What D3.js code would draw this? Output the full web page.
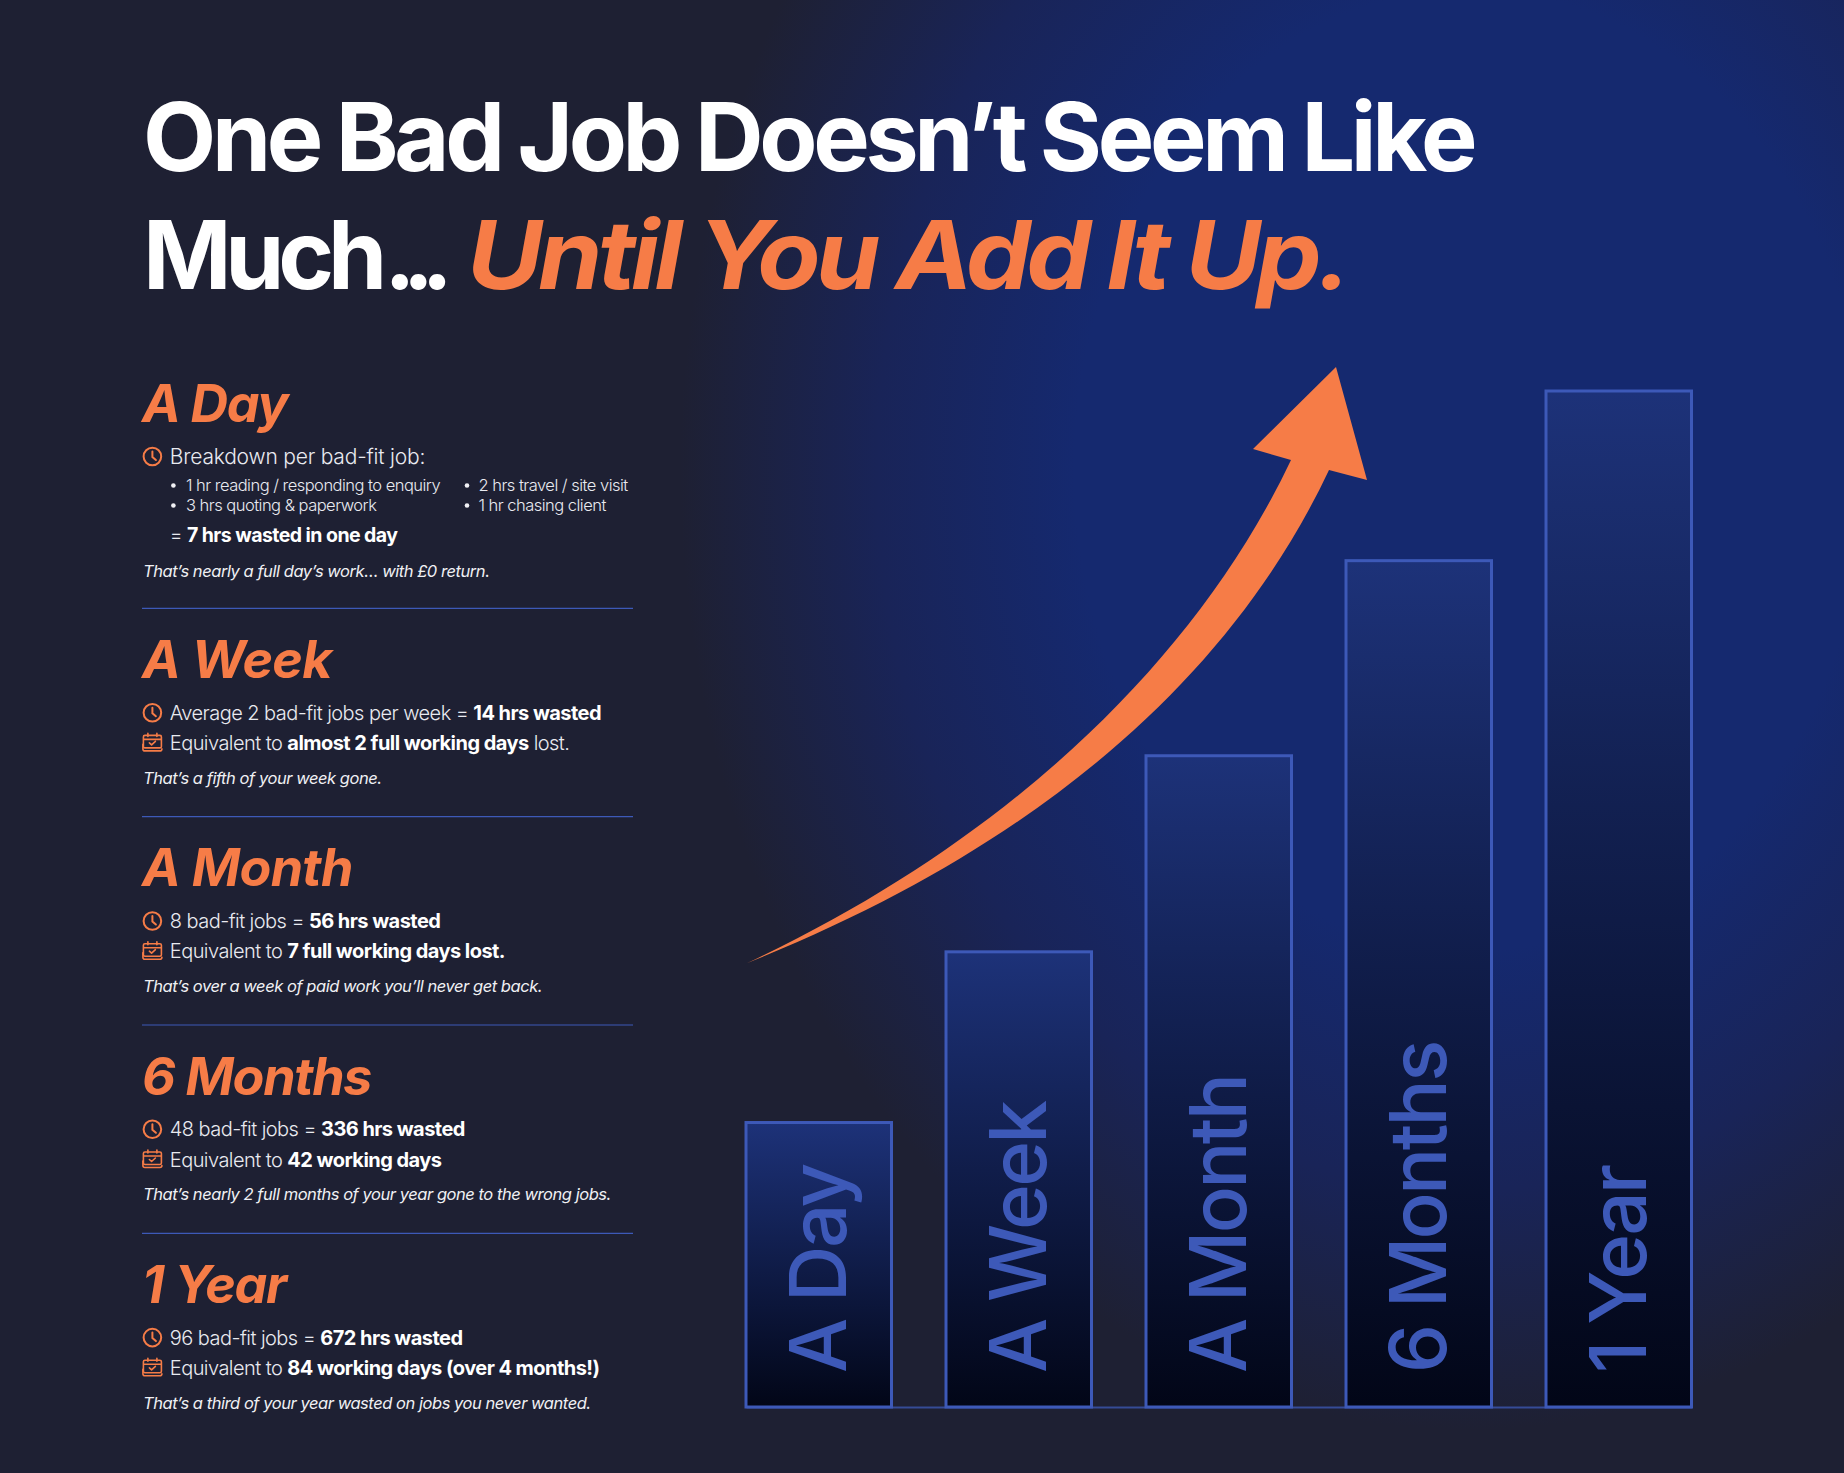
<!DOCTYPE html>
<html><head><meta charset="utf-8"><title>One Bad Job</title>
<script src="https://cdn.jsdelivr.net/npm/d3@7"></script>
<style>
html,body{margin:0;padding:0;background:#1e2032;}
svg{display:block;}
text{font-family:Inter,"Noto Sans",sans-serif;}
</style></head><body>
<div id="chart"></div>
<script>
const periods = ["A Day","A Week","A Month","6 Months","1 Year"];
const barHeights = [28.0,44.8,64.1,83.3,100];
const titleLine1 = "One Bad Job Doesn’t Seem Like";
const titleLine2a = "Much";
const titleLine2dots = "...";
const titleLine2b = "Until You Add It Up.";
const breakdownHead = "Breakdown per bad-fit job:";
const breakdownCol1 = ["1 hr reading / responding to enquiry","3 hrs quoting & paperwork"];
const breakdownCol2 = ["2 hrs travel / site visit","1 hr chasing client"];
const dayTotal = ["= ","7 hrs wasted in one day"];
const hourLines = [null,
  ["Average 2 bad-fit jobs per week = ","14 hrs wasted"],
  ["8 bad-fit jobs = ","56 hrs wasted"],
  ["48 bad-fit jobs = ","336 hrs wasted"],
  ["96 bad-fit jobs = ","672 hrs wasted"]];
const equivLines = [null,
  ["Equivalent to ","almost 2 full working days"," lost."],
  ["Equivalent to ","7 full working days lost."],
  ["Equivalent to ","42 working days"],
  ["Equivalent to ","84 working days (over 4 months!)"]];
const closers = ["That’s nearly a full day’s work… with £0 return.",
  "That’s a fifth of your week gone.",
  "That’s over a week of paid work you’ll never get back.",
  "That’s nearly 2 full months of your year gone to the wrong jobs.",
  "That’s a third of your year wasted on jobs you never wanted."];

const W=1844,H=1473, ORANGE="#f67c47", BLUE="#3d59b8";
const svg=d3.select("#chart").append("svg").attr("width",W).attr("height",H).attr("viewBox",`0 0 ${W} ${H}`);
const defs=svg.append("defs");
const bg=defs.append("radialGradient").attr("id","bg").attr("gradientUnits","userSpaceOnUse")
  .attr("cx",0).attr("cy",0).attr("r",1).attr("gradientTransform","translate(1470,470) scale(790,960)");
[[0,"#15296f"],[0.5,"#15296f"],[0.75,"#192458"],[1,"#1e2033"]].forEach(s=>bg.append("stop").attr("offset",s[0]).attr("stop-color",s[1]));
const bf=defs.append("linearGradient").attr("id","barFill").attr("x1",0).attr("y1",0).attr("x2",0).attr("y2",1);
[[0,"#1d3279"],[1,"#020617"]].forEach(s=>bf.append("stop").attr("offset",s[0]).attr("stop-color",s[1]));
svg.append("rect").attr("width",W).attr("height",H).attr("fill","#1e2033");
svg.append("rect").attr("width",W).attr("height",H).attr("fill","url(#bg)");

// chart
const x=d3.scaleBand().domain(periods).range([746,1691.5]).paddingInner(0.2725);
const y=d3.scaleLinear().domain([0,100]).range([1407,391]);
const axis=svg.append("g").attr("transform",`translate(0,${y(0)})`).call(d3.axisBottom(x).tickSize(0).tickFormat(""));
axis.select(".domain").attr("stroke",BLUE).attr("stroke-width",2).attr("opacity",.75);
svg.append("g").selectAll("rect").data(periods).join("rect")
  .attr("x",d=>x(d)).attr("width",x.bandwidth())
  .attr("y",(d,i)=>y(barHeights[i])).attr("height",(d,i)=>y(0)-y(barHeights[i]))
  .attr("fill","url(#barFill)").attr("stroke",BLUE).attr("stroke-width",3);
svg.append("g").selectAll("text").data(periods).join("text")
  .attr("transform",d=>`translate(${x(d)+x.bandwidth()/2+27},1373) rotate(-90)`)
  .attr("fill",BLUE).attr("font-size",78).attr("font-weight",500).attr("letter-spacing",-2.5).text(d=>d);

// arrow
const ap=d3.path();
ap.moveTo(746.7,963.3);
ap.bezierCurveTo(1010,840,1197,658,1291,460);
ap.lineTo(1253,449);ap.lineTo(1336,367);ap.lineTo(1367,480);ap.lineTo(1329,470);
ap.bezierCurveTo(1230,680,1035,848,746.7,963.3);
ap.closePath();
svg.append("path").attr("fill",ORANGE).attr("d",ap.toString());

// title
const tg=svg.append("g").attr("font-size",95).attr("font-weight",700).attr("fill","#fff");
tg.append("text").attr("x",143).attr("y",171).attr("letter-spacing",-4.3).attr("word-spacing",-1.5).text(titleLine1);
const t2=tg.append("text").attr("x",143).attr("y",289).attr("letter-spacing",-6.2);
t2.append("tspan").text(titleLine2a);
t2.append("tspan").attr("letter-spacing",-13).attr("dx",3).text(titleLine2dots);
tg.append("text").attr("x",467).attr("y",289).attr("letter-spacing",-4.3).attr("fill",ORANGE).attr("font-style","italic")
  .attr("textLength",880).attr("lengthAdjust","spacingAndGlyphs").text(titleLine2b);

// left column
function clock(g,cy){
  const c=g.append("g").attr("transform",`translate(152.4,${cy})`).attr("fill","none").attr("stroke",ORANGE).attr("stroke-width",2).attr("stroke-linecap","round");
  c.append("circle").attr("r",8.8);
  c.append("path").attr("d","M0,-5V0.5L3.5,3.5");
}
function calendar(g,cy){
  const c=g.append("g").attr("transform",`translate(152.4,${cy})`).attr("fill","none").attr("stroke",ORANGE).attr("stroke-width",1.6).attr("stroke-linecap","round").attr("stroke-linejoin","round");
  c.append("path").attr("d","M-7.5,-7H7.5Q9,-7 9,-5.5V4Q9,5.5 7.5,5.5H-7.5Q-9,5.5 -9,4V-5.5Q-9,-7 -7.5,-7Z");
  c.append("path").attr("d","M-8.5,-3H8.5M-4.5,-9V-6M4.5,-9V-6M-3,0.5L-0.8,2.5L3,-1");
  c.append("path").attr("d","M-9.5,2V6.5Q-9.5,8.5 -7.5,8.5H7.5Q9.5,8.5 9.5,6.5");
}
function rich(g,xx,yy,parts,size,ls){
  const t=g.append("text").attr("x",xx).attr("y",yy).attr("font-size",size).attr("fill","#e9eaf0").attr("font-weight",300).attr("letter-spacing",ls);
  parts.forEach((p,i)=>t.append("tspan").attr("font-weight",i%2?700:300).attr("fill",i%2?"#fff":"#e9eaf0").attr("xml:space","preserve").text(p));
  return t;
}
const left=svg.append("g");
const base=d3.scaleLinear().domain([0,1]).range([469.7,678]);
periods.forEach((p,i)=>{
  const by=i===0?422:base(i);
  left.append("text").attr("x",142).attr("y",by).attr("font-size",52).attr("font-weight",700).attr("font-style","italic").attr("letter-spacing",i===1||i===2?-0.7:-1.3).attr("fill",ORANGE).text(p);
  if(i<4) left.append("line").attr("x1",142).attr("x2",633).attr("y1",base(i)+138.7).attr("y2",base(i)+138.7).attr("stroke",BLUE).attr("stroke-width",1.2);
  if(i>0){
    clock(left,by+34.7);
    rich(left,169.8,by+41.7,hourLines[i],20,-.55);
    calendar(left,by+64.4);
    rich(left,169.8,by+72,equivLines[i],20,-.55);
    left.append("text").attr("x",143).attr("y",by+105.7).attr("font-size",16.5).attr("font-style","italic").attr("font-weight",400).attr("fill","#f0f0f4").attr("letter-spacing",-.45).text(closers[i]);
  }
});
clock(left,456.5);
rich(left,169.8,464,[breakdownHead],21,-.2);
[[breakdownCol1,173.4,186],[breakdownCol2,467,478.5]].forEach(([col,dx,tx])=>{
  col.forEach((s,k)=>{
    const yy=491+k*20;
    left.append("circle").attr("cx",dx).attr("cy",yy-5.5).attr("r",2.3).attr("fill","#f0f0f4");
    left.append("text").attr("x",tx).attr("y",yy).attr("font-size",16.5).attr("font-weight",300).attr("fill","#e9eaf0").attr("letter-spacing",-.52).text(s);
  });
});
rich(left,169.8,542,dayTotal,19.5,-.55);
left.append("text").attr("x",143).attr("y",576.5).attr("font-size",16.5).attr("font-style","italic").attr("font-weight",400).attr("fill","#f0f0f4").attr("letter-spacing",-.45).text(closers[0]);
</script>
</body></html>
